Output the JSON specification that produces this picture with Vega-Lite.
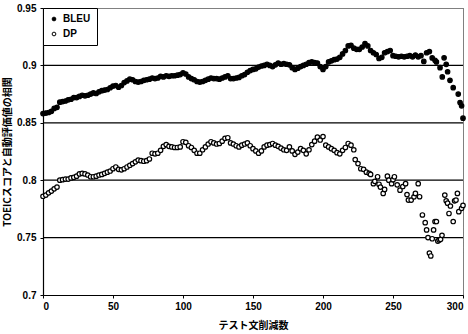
{
  "$schema": "https://vega.github.io/schema/vega-lite/v6.json",
  "autosize": {"type": "none"},
  "padding": {"left": 43, "top": 8, "right": 5, "bottom": 38},
  "width": 420,
  "height": 287,
  "background": "white",
  "config": {
    "view": {"stroke": "black", "strokeDash": [1, 1], "strokeWidth": 1},
    "axis": {
      "labelFont": "Liberation Sans", "labelFontSize": 10, "labelFontWeight": "bold", "labelColor": "black",
      "titleFont": "Noto Sans CJK JP", "titleFontSize": 10, "titleFontWeight": "bold", "titleColor": "black",
      "domainColor": "black", "domainWidth": 1.2, "tickColor": "black", "tickSize": 3, "grid": false
    }
  },
  "layer": [
    {
      "data": {"values": [{"v": 0.75}, {"v": 0.8}, {"v": 0.85}, {"v": 0.9}]},
      "mark": {"type": "rule", "color": "black", "strokeWidth": 1.3},
      "encoding": {
        "y": {"field": "v", "type": "quantitative", "scale": {"domain": [0.7, 0.95], "nice": false, "zero": false},
          "axis": {"values": [0.7, 0.75, 0.8, 0.85, 0.9, 0.95], "format": ".2~f", "title": "TOEICスコアと自動評価値の相関", "labelPadding": 4, "titlePadding": 4}}
      }
    },
    {
      "data": {"values": [
        {"x":0,"v":0.858,"s":"BLEU"},{"x":2,"v":0.8585,"s":"BLEU"},{"x":4,"v":0.859,"s":"BLEU"},{"x":6,"v":0.860,"s":"BLEU"},{"x":8,"v":0.8625,"s":"BLEU"},
        {"x":10,"v":0.8635,"s":"BLEU"},{"x":12,"v":0.868,"s":"BLEU"},{"x":14,"v":0.8685,"s":"BLEU"},{"x":16,"v":0.869,"s":"BLEU"},{"x":18,"v":0.870,"s":"BLEU"},
        {"x":20,"v":0.8705,"s":"BLEU"},{"x":22,"v":0.872,"s":"BLEU"},{"x":24,"v":0.872,"s":"BLEU"},{"x":26,"v":0.873,"s":"BLEU"},{"x":28,"v":0.874,"s":"BLEU"},
        {"x":30,"v":0.8735,"s":"BLEU"},{"x":32,"v":0.874,"s":"BLEU"},{"x":34,"v":0.875,"s":"BLEU"},{"x":36,"v":0.876,"s":"BLEU"},{"x":38,"v":0.8755,"s":"BLEU"},
        {"x":40,"v":0.877,"s":"BLEU"},{"x":42,"v":0.878,"s":"BLEU"},{"x":44,"v":0.8785,"s":"BLEU"},{"x":46,"v":0.879,"s":"BLEU"},{"x":48,"v":0.8805,"s":"BLEU"},
        {"x":50,"v":0.882,"s":"BLEU"},{"x":52,"v":0.8825,"s":"BLEU"},{"x":54,"v":0.881,"s":"BLEU"},{"x":56,"v":0.8825,"s":"BLEU"},{"x":58,"v":0.885,"s":"BLEU"},
        {"x":60,"v":0.8865,"s":"BLEU"},{"x":62,"v":0.888,"s":"BLEU"},{"x":64,"v":0.8875,"s":"BLEU"},{"x":66,"v":0.886,"s":"BLEU"},{"x":68,"v":0.8855,"s":"BLEU"},
        {"x":70,"v":0.886,"s":"BLEU"},{"x":72,"v":0.887,"s":"BLEU"},{"x":74,"v":0.8875,"s":"BLEU"},{"x":76,"v":0.888,"s":"BLEU"},{"x":78,"v":0.889,"s":"BLEU"},
        {"x":80,"v":0.8885,"s":"BLEU"},{"x":82,"v":0.889,"s":"BLEU"},{"x":84,"v":0.8905,"s":"BLEU"},{"x":86,"v":0.890,"s":"BLEU"},{"x":88,"v":0.891,"s":"BLEU"},
        {"x":90,"v":0.8905,"s":"BLEU"},{"x":92,"v":0.891,"s":"BLEU"},{"x":94,"v":0.891,"s":"BLEU"},{"x":96,"v":0.8915,"s":"BLEU"},{"x":98,"v":0.892,"s":"BLEU"},
        {"x":100,"v":0.8935,"s":"BLEU"},{"x":102,"v":0.8925,"s":"BLEU"},{"x":104,"v":0.890,"s":"BLEU"},{"x":106,"v":0.8885,"s":"BLEU"},{"x":108,"v":0.8875,"s":"BLEU"},
        {"x":110,"v":0.886,"s":"BLEU"},{"x":112,"v":0.8855,"s":"BLEU"},{"x":114,"v":0.886,"s":"BLEU"},{"x":116,"v":0.887,"s":"BLEU"},{"x":118,"v":0.888,"s":"BLEU"},
        {"x":120,"v":0.889,"s":"BLEU"},{"x":122,"v":0.8885,"s":"BLEU"},{"x":124,"v":0.8885,"s":"BLEU"},{"x":126,"v":0.888,"s":"BLEU"},{"x":128,"v":0.889,"s":"BLEU"},
        {"x":130,"v":0.890,"s":"BLEU"},{"x":132,"v":0.891,"s":"BLEU"},{"x":134,"v":0.8885,"s":"BLEU"},{"x":136,"v":0.8885,"s":"BLEU"},{"x":138,"v":0.889,"s":"BLEU"},
        {"x":140,"v":0.8895,"s":"BLEU"},{"x":142,"v":0.891,"s":"BLEU"},{"x":144,"v":0.892,"s":"BLEU"},{"x":146,"v":0.894,"s":"BLEU"},{"x":148,"v":0.8955,"s":"BLEU"},
        {"x":150,"v":0.8965,"s":"BLEU"},{"x":152,"v":0.897,"s":"BLEU"},{"x":154,"v":0.8985,"s":"BLEU"},{"x":156,"v":0.8995,"s":"BLEU"},{"x":158,"v":0.900,"s":"BLEU"},
        {"x":160,"v":0.901,"s":"BLEU"},{"x":162,"v":0.900,"s":"BLEU"},{"x":164,"v":0.899,"s":"BLEU"},{"x":166,"v":0.9005,"s":"BLEU"},{"x":168,"v":0.902,"s":"BLEU"},
        {"x":170,"v":0.901,"s":"BLEU"},{"x":172,"v":0.9015,"s":"BLEU"},{"x":174,"v":0.901,"s":"BLEU"},{"x":176,"v":0.9005,"s":"BLEU"},{"x":178,"v":0.898,"s":"BLEU"},
        {"x":180,"v":0.8965,"s":"BLEU"},{"x":182,"v":0.8975,"s":"BLEU"},{"x":184,"v":0.899,"s":"BLEU"},{"x":186,"v":0.900,"s":"BLEU"},{"x":188,"v":0.901,"s":"BLEU"},
        {"x":190,"v":0.9025,"s":"BLEU"},{"x":192,"v":0.903,"s":"BLEU"},{"x":194,"v":0.9025,"s":"BLEU"},{"x":196,"v":0.902,"s":"BLEU"},{"x":198,"v":0.899,"s":"BLEU"},
        {"x":200,"v":0.8965,"s":"BLEU"},{"x":202,"v":0.899,"s":"BLEU"},{"x":204,"v":0.903,"s":"BLEU"},{"x":206,"v":0.904,"s":"BLEU"},{"x":208,"v":0.905,"s":"BLEU"},
        {"x":210,"v":0.9055,"s":"BLEU"},{"x":212,"v":0.907,"s":"BLEU"},{"x":214,"v":0.910,"s":"BLEU"},{"x":216,"v":0.913,"s":"BLEU"},{"x":218,"v":0.917,"s":"BLEU"},
        {"x":220,"v":0.9175,"s":"BLEU"},{"x":222,"v":0.915,"s":"BLEU"},{"x":224,"v":0.914,"s":"BLEU"},{"x":226,"v":0.914,"s":"BLEU"},{"x":228,"v":0.916,"s":"BLEU"},
        {"x":230,"v":0.919,"s":"BLEU"},{"x":232,"v":0.917,"s":"BLEU"},{"x":234,"v":0.913,"s":"BLEU"},{"x":236,"v":0.911,"s":"BLEU"},{"x":238,"v":0.9095,"s":"BLEU"},
        {"x":240,"v":0.906,"s":"BLEU"},{"x":242,"v":0.907,"s":"BLEU"},{"x":244,"v":0.911,"s":"BLEU"},{"x":246,"v":0.912,"s":"BLEU"},{"x":248,"v":0.913,"s":"BLEU"},
        {"x":250,"v":0.9085,"s":"BLEU"},{"x":252,"v":0.908,"s":"BLEU"},{"x":254,"v":0.9075,"s":"BLEU"},{"x":256,"v":0.908,"s":"BLEU"},{"x":258,"v":0.9075,"s":"BLEU"},
        {"x":260,"v":0.908,"s":"BLEU"},{"x":262,"v":0.9085,"s":"BLEU"},{"x":264,"v":0.9075,"s":"BLEU"},{"x":266,"v":0.909,"s":"BLEU"},{"x":268,"v":0.9075,"s":"BLEU"},
        {"x":270,"v":0.9085,"s":"BLEU"},{"x":272,"v":0.9035,"s":"BLEU"},{"x":274,"v":0.911,"s":"BLEU"},{"x":276,"v":0.912,"s":"BLEU"},{"x":278,"v":0.9065,"s":"BLEU"},
        {"x":280,"v":0.9045,"s":"BLEU"},{"x":281,"v":0.903,"s":"BLEU"},{"x":283.6,"v":0.898,"s":"BLEU"},{"x":285.2,"v":0.890,"s":"BLEU"},{"x":286.5,"v":0.9066,"s":"BLEU"},
        {"x":288,"v":0.9009,"s":"BLEU"},{"x":289,"v":0.8945,"s":"BLEU"},{"x":290.7,"v":0.887,"s":"BLEU"},{"x":293,"v":0.8806,"s":"BLEU"},{"x":296.6,"v":0.875,"s":"BLEU"},
        {"x":297.9,"v":0.8676,"s":"BLEU"},{"x":299,"v":0.8648,"s":"BLEU"},{"x":300,"v":0.854,"s":"BLEU"},

        {"x":0,"v":0.786,"s":"DP"},{"x":2,"v":0.787,"s":"DP"},{"x":4,"v":0.789,"s":"DP"},{"x":6,"v":0.7905,"s":"DP"},{"x":8,"v":0.7925,"s":"DP"},
        {"x":10,"v":0.794,"s":"DP"},{"x":12,"v":0.800,"s":"DP"},{"x":14,"v":0.8005,"s":"DP"},{"x":16,"v":0.801,"s":"DP"},{"x":18,"v":0.801,"s":"DP"},
        {"x":20,"v":0.802,"s":"DP"},{"x":22,"v":0.8025,"s":"DP"},{"x":24,"v":0.8035,"s":"DP"},{"x":26,"v":0.8055,"s":"DP"},{"x":28,"v":0.806,"s":"DP"},
        {"x":30,"v":0.8055,"s":"DP"},{"x":32,"v":0.8045,"s":"DP"},{"x":34,"v":0.803,"s":"DP"},{"x":36,"v":0.803,"s":"DP"},{"x":38,"v":0.8035,"s":"DP"},
        {"x":40,"v":0.8045,"s":"DP"},{"x":42,"v":0.805,"s":"DP"},{"x":44,"v":0.806,"s":"DP"},{"x":46,"v":0.807,"s":"DP"},{"x":48,"v":0.808,"s":"DP"},
        {"x":50,"v":0.810,"s":"DP"},{"x":52,"v":0.8115,"s":"DP"},{"x":54,"v":0.8095,"s":"DP"},{"x":56,"v":0.809,"s":"DP"},{"x":58,"v":0.810,"s":"DP"},
        {"x":60,"v":0.8115,"s":"DP"},{"x":62,"v":0.813,"s":"DP"},{"x":64,"v":0.8145,"s":"DP"},{"x":66,"v":0.816,"s":"DP"},{"x":68,"v":0.8175,"s":"DP"},
        {"x":70,"v":0.817,"s":"DP"},{"x":72,"v":0.8165,"s":"DP"},{"x":74,"v":0.817,"s":"DP"},{"x":76,"v":0.8185,"s":"DP"},{"x":78,"v":0.8235,"s":"DP"},
        {"x":80,"v":0.823,"s":"DP"},{"x":82,"v":0.8235,"s":"DP"},{"x":84,"v":0.826,"s":"DP"},{"x":86,"v":0.8295,"s":"DP"},{"x":88,"v":0.831,"s":"DP"},
        {"x":90,"v":0.8295,"s":"DP"},{"x":92,"v":0.829,"s":"DP"},{"x":94,"v":0.8285,"s":"DP"},{"x":96,"v":0.8285,"s":"DP"},{"x":98,"v":0.829,"s":"DP"},
        {"x":100,"v":0.8335,"s":"DP"},{"x":102,"v":0.833,"s":"DP"},{"x":104,"v":0.830,"s":"DP"},{"x":106,"v":0.8285,"s":"DP"},{"x":108,"v":0.826,"s":"DP"},
        {"x":110,"v":0.8235,"s":"DP"},{"x":112,"v":0.8235,"s":"DP"},{"x":114,"v":0.8265,"s":"DP"},{"x":116,"v":0.829,"s":"DP"},{"x":118,"v":0.8315,"s":"DP"},
        {"x":120,"v":0.8335,"s":"DP"},{"x":122,"v":0.8325,"s":"DP"},{"x":124,"v":0.8315,"s":"DP"},{"x":126,"v":0.832,"s":"DP"},{"x":128,"v":0.834,"s":"DP"},
        {"x":130,"v":0.8365,"s":"DP"},{"x":132,"v":0.837,"s":"DP"},{"x":134,"v":0.8325,"s":"DP"},{"x":136,"v":0.8315,"s":"DP"},{"x":138,"v":0.830,"s":"DP"},
        {"x":140,"v":0.829,"s":"DP"},{"x":142,"v":0.8305,"s":"DP"},{"x":144,"v":0.8315,"s":"DP"},{"x":146,"v":0.8325,"s":"DP"},{"x":148,"v":0.830,"s":"DP"},
        {"x":150,"v":0.8275,"s":"DP"},{"x":152,"v":0.8255,"s":"DP"},{"x":154,"v":0.8235,"s":"DP"},{"x":156,"v":0.8255,"s":"DP"},{"x":158,"v":0.829,"s":"DP"},
        {"x":160,"v":0.8305,"s":"DP"},{"x":162,"v":0.831,"s":"DP"},{"x":164,"v":0.832,"s":"DP"},{"x":166,"v":0.8305,"s":"DP"},{"x":168,"v":0.8295,"s":"DP"},
        {"x":170,"v":0.828,"s":"DP"},{"x":172,"v":0.8265,"s":"DP"},{"x":174,"v":0.826,"s":"DP"},{"x":176,"v":0.829,"s":"DP"},{"x":178,"v":0.8255,"s":"DP"},
        {"x":180,"v":0.8225,"s":"DP"},{"x":182,"v":0.8245,"s":"DP"},{"x":184,"v":0.8275,"s":"DP"},{"x":186,"v":0.826,"s":"DP"},{"x":188,"v":0.823,"s":"DP"},
        {"x":190,"v":0.8265,"s":"DP"},{"x":192,"v":0.831,"s":"DP"},{"x":194,"v":0.834,"s":"DP"},{"x":196,"v":0.8375,"s":"DP"},{"x":198,"v":0.835,"s":"DP"},
        {"x":200,"v":0.838,"s":"DP"},{"x":202,"v":0.8305,"s":"DP"},{"x":204,"v":0.829,"s":"DP"},{"x":206,"v":0.8275,"s":"DP"},{"x":208,"v":0.826,"s":"DP"},
        {"x":210,"v":0.824,"s":"DP"},{"x":212,"v":0.823,"s":"DP"},{"x":214,"v":0.826,"s":"DP"},{"x":216,"v":0.8285,"s":"DP"},{"x":218,"v":0.832,"s":"DP"},
        {"x":220,"v":0.8305,"s":"DP"},{"x":222,"v":0.8265,"s":"DP"},{"x":223,"v":0.818,"s":"DP"},{"x":225,"v":0.8145,"s":"DP"},{"x":227,"v":0.810,"s":"DP"},
        {"x":229,"v":0.8095,"s":"DP"},{"x":231,"v":0.807,"s":"DP"},{"x":233,"v":0.806,"s":"DP"},{"x":234,"v":0.805,"s":"DP"},{"x":236,"v":0.797,"s":"DP"},
        {"x":237,"v":0.799,"s":"DP"},{"x":239,"v":0.803,"s":"DP"},{"x":240,"v":0.7965,"s":"DP"},{"x":241,"v":0.794,"s":"DP"},{"x":243,"v":0.7885,"s":"DP"},
        {"x":244,"v":0.792,"s":"DP"},{"x":246,"v":0.8035,"s":"DP"},{"x":247,"v":0.800,"s":"DP"},{"x":249,"v":0.797,"s":"DP"},{"x":250,"v":0.8005,"s":"DP"},
        {"x":251,"v":0.803,"s":"DP"},{"x":253,"v":0.796,"s":"DP"},{"x":255,"v":0.7913,"s":"DP"},{"x":257,"v":0.7945,"s":"DP"},{"x":259,"v":0.797,"s":"DP"},
        {"x":260,"v":0.7875,"s":"DP"},{"x":261,"v":0.7827,"s":"DP"},{"x":263,"v":0.7827,"s":"DP"},{"x":265,"v":0.7855,"s":"DP"},{"x":266,"v":0.7885,"s":"DP"},
        {"x":268,"v":0.797,"s":"DP"},{"x":269,"v":0.7856,"s":"DP"},{"x":271,"v":0.7697,"s":"DP"},{"x":273,"v":0.763,"s":"DP"},{"x":274,"v":0.7567,"s":"DP"},
        {"x":275,"v":0.750,"s":"DP"},{"x":276,"v":0.7365,"s":"DP"},{"x":277,"v":0.734,"s":"DP"},{"x":278,"v":0.749,"s":"DP"},{"x":279,"v":0.7567,"s":"DP"},
        {"x":280,"v":0.764,"s":"DP"},{"x":281,"v":0.764,"s":"DP"},{"x":282,"v":0.747,"s":"DP"},{"x":283,"v":0.748,"s":"DP"},{"x":284,"v":0.7485,"s":"DP"},
        {"x":285,"v":0.752,"s":"DP"},{"x":287,"v":0.787,"s":"DP"},{"x":288,"v":0.782,"s":"DP"},{"x":289,"v":0.780,"s":"DP"},{"x":290,"v":0.771,"s":"DP"},
        {"x":291,"v":0.7775,"s":"DP"},{"x":293,"v":0.764,"s":"DP"},{"x":294,"v":0.782,"s":"DP"},{"x":295,"v":0.7827,"s":"DP"},{"x":296,"v":0.7885,"s":"DP"},
        {"x":297,"v":0.7726,"s":"DP"},{"x":299,"v":0.7755,"s":"DP"},{"x":300,"v":0.778,"s":"DP"}
      ]},
      "mark": {"type": "point", "shape": "circle", "filled": true, "stroke": "black", "strokeWidth": 1.2, "size": 20, "opacity": 1},
      "encoding": {
        "x": {"field": "x", "type": "quantitative", "scale": {"domain": [0, 300], "nice": false},
          "axis": {"values": [0, 50, 100, 150, 200, 250, 300], "title": "テスト文削減数", "labelPadding": 3, "titlePadding": 9}},
        "y": {"field": "v", "type": "quantitative", "scale": {"domain": [0.7, 0.95], "nice": false, "zero": false},
          "axis": {"values": [0.7, 0.75, 0.8, 0.85, 0.9, 0.95], "format": ".2~f", "title": "TOEICスコアと自動評価値の相関", "labelPadding": 4, "titlePadding": 4}},
        "fill": {"field": "s", "type": "nominal", "scale": {"domain": ["BLEU", "DP"], "range": ["black", "white"]},
          "legend": {"title": null, "orient": "top-left", "offset": 0, "padding": 6, "strokeColor": "black", "fillColor": "white",
            "labelFont": "Liberation Sans", "labelFontSize": 10, "labelFontWeight": "bold", "labelColor": "black",
            "symbolSize": 14, "symbolStrokeColor": "black", "symbolStrokeWidth": 1, "rowPadding": 5, "labelOffset": 4}}
      }
    }
  ]
}
